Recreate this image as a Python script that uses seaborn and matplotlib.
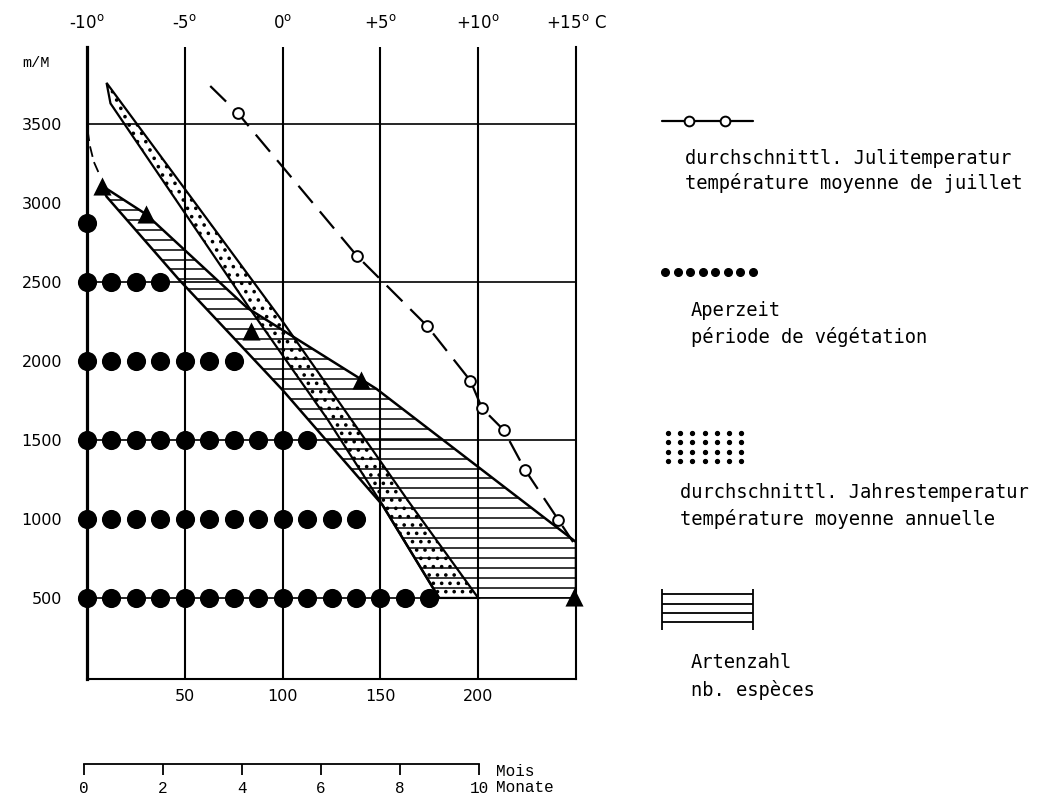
import numpy as np
import pandas as pd
import seaborn as sns
import matplotlib.pyplot as plt
from matplotlib.patches import Polygon

# Aperzeit: altitude rows (m) and number of dots in each row
aper_alt = [500, 1000, 1500, 2000, 2500, 2870]
aper_dots = [15, 12, 10, 7, 4, 1]
aper_step = 12.5  # distance between two dots, in units of the lower axis

# durchschnittl. Julitemperatur (deg C) against altitude (m)
juli_temp = [-2.3, 3.8, 7.4, 9.6, 10.2, 11.3, 12.4, 14.1]
juli_alt = [3570, 2665, 2220, 1875, 1700, 1563, 1310, 994]
juli_line_temp = [-3.7] + juli_temp + [14.85]
juli_line_alt = [3740] + juli_alt + [854]

# durchschnittl. Jahrestemperatur: warm and cold edge of the band
jahr_warm_temp = [-9.0, 0.0, 6.5, 10.0]
jahr_warm_alt = [3760, 2250, 1100, 500]
jahr_cold_temp = [-8.8, -1.7, 2.3, 5.1, 8.0]
jahr_cold_alt = [3630, 2335, 1630, 1090, 500]

# Artenzahl: edges of the band and the observed values (triangles)
arten_upper_n = [7.5, 30, 82, 148, 250, 250]
arten_upper_alt = [3110, 2930, 2335, 1823, 854, 500]
arten_lower_n = [7.5, 10, 47, 100, 151, 180]
arten_lower_alt = [3110, 3040, 2515, 1816, 1089, 500]
arten_top_n = [0.3, 1.5, 3.5, 6.0]
arten_top_alt = [3460, 3360, 3260, 3190]
arten_obs_n = [7.6, 30, 84, 140, 249]
arten_obs_alt = [3108, 2930, 2190, 1880, 505]

alt_ticks = [500, 1000, 1500, 2000, 2500, 3000, 3500]
n_ticks = [50, 100, 150, 200]
temp_ticks = [-10, -5, 0, 5, 10, 15]
temp_labels = ['-10$^{\\mathrm{o}}$', '-5$^{\\mathrm{o}}$', '0$^{\\mathrm{o}}$',
               '+5$^{\\mathrm{o}}$', '+10$^{\\mathrm{o}}$', '+15$^{\\mathrm{o}}$ C']
month_ticks = [0, 2, 4, 6, 8, 10]


def t2n(t):
    # top scale: -10 deg sits on 0, 5 deg per 50 units
    return (np.asarray(t, dtype=float) + 10) * 10


sns.set_style("white")
plt.rcParams['font.family'] = ['DejaVu Sans']
plt.rcParams['text.color'] = 'black'
plt.rcParams['xtick.color'] = 'black'
plt.rcParams['ytick.color'] = 'black'
plt.rcParams['axes.labelcolor'] = 'black'
plt.rcParams['hatch.linewidth'] = 1.4
plt.rcParams['hatch.color'] = 'black'

W, H = 1047, 802
fig = plt.figure(figsize=(W / 100, H / 100), dpi=100)
ax = fig.add_axes([87 / W, 1 - 679 / H, (576 - 87) / W, (679 - 47) / H])
ax.set_xlim(0, 250)
ax.set_ylim(-13, 3987)

# frame and grid
ax.spines['top'].set_visible(False)
ax.spines['left'].set_linewidth(2.3)
ax.spines['right'].set_linewidth(1.5)
ax.spines['bottom'].set_linewidth(1.5)
for s in ['left', 'right', 'bottom']:
    ax.spines[s].set_color('black')
for x in n_ticks:
    ax.axvline(x, color='black', lw=1.5, zorder=1)
for y in [500, 1500, 2500, 3500]:
    ax.axhline(y, color='black', lw=1.2, zorder=1)

# Artenzahl band, horizontal hatching
band = list(zip(arten_upper_n, arten_upper_alt)) + list(zip(arten_lower_n, arten_lower_alt))[::-1]
poly = Polygon(band, closed=True, facecolor='none', edgecolor='none')
ax.add_patch(poly)
hl = ax.hlines(np.arange(500, 3200, 63), 0, 250, color='black', lw=1.1, zorder=2)
hl.set_clip_path(poly)
ax.plot(arten_upper_n, arten_upper_alt, color='black', lw=1.8, zorder=3)
ax.plot(arten_lower_n, arten_lower_alt, color='black', lw=1.8, zorder=3)
ax.plot(arten_top_n, arten_top_alt, color='black', lw=1.3, dashes=(6, 3), zorder=3)

# Jahrestemperatur band, dotted
jband = list(zip(t2n(jahr_warm_temp), jahr_warm_alt)) + list(zip(t2n(jahr_cold_temp), jahr_cold_alt))[::-1]
ax.add_patch(Polygon(jband, closed=True, facecolor='none', edgecolor='black',
                     lw=1.6, hatch='..', zorder=3))

# Julitemperatur
ax.plot(t2n(juli_line_temp), juli_line_alt, color='black', lw=1.6, dashes=(10, 5), zorder=4)
sns.scatterplot(x=t2n(juli_temp), y=juli_alt, ax=ax, marker='o', s=60, color='white',
                edgecolor='black', linewidth=1.4, zorder=5)

# Aperzeit dots
rows = []
for a, k in zip(aper_alt, aper_dots):
    for i in range(k):
        rows.append((i * aper_step, a))
aper = pd.DataFrame(rows, columns=['n', 'alt'])
sns.scatterplot(data=aper, x='n', y='alt', ax=ax, s=190, color='black', linewidth=0,
                zorder=5, clip_on=False)

# observed species numbers
sns.scatterplot(x=arten_obs_n, y=arten_obs_alt, ax=ax, marker='^', s=170, color='black',
                linewidth=0, zorder=6, clip_on=False)

# ticks
ax.set_xticks(n_ticks)
ax.set_yticks(alt_ticks)
ax.tick_params(axis='x', length=0, pad=7, labelsize=11.5)
ax.tick_params(axis='y', length=0, pad=18, labelsize=11.5)
ax.set_xlabel('')
ax.set_ylabel('')

top = ax.secondary_xaxis('top', functions=(lambda n: n / 10 - 10, lambda t: (t + 10) * 10))
top.set_xticks(temp_ticks)
top.set_xticklabels(temp_labels)
top.tick_params(length=0, pad=11, labelsize=12)
top.spines['top'].set_visible(False)

fig.text(22 / W, 1 - 63 / H, 'm/M', family='Liberation Mono', fontsize=11, va='center')

# months scale below
axm = fig.add_axes([84 / W, 1 - 764 / H, 494 / W, 0.0001])
axm.set_xlim(0, 12.5)
axm.set_yticks([])
for s in ['top', 'left', 'right']:
    axm.spines[s].set_visible(False)
axm.spines['bottom'].set_bounds(0, 10)
axm.spines['bottom'].set_linewidth(1.3)
axm.spines['bottom'].set_color('black')
axm.set_xticks(month_ticks)
axm.tick_params(axis='x', bottom=True, direction='out', length=8, width=1.3, pad=4,
                labelsize=11.5, color='black')
for lab in axm.get_xticklabels():
    lab.set_family('Liberation Mono')
axm.patch.set_alpha(0)
fig.text(496 / W, 1 - 771 / H, 'Mois', family='Liberation Mono', fontsize=11.5, va='center')
fig.text(496 / W, 1 - 788 / H, 'Monate', family='Liberation Mono', fontsize=11.5, va='center')

# legend on the right
lax = fig.add_axes([0, 0, 1, 1])
lax.set_xlim(0, W)
lax.set_ylim(H, 0)
lax.axis('off')
lax.patch.set_alpha(0)
mono = dict(family='DejaVu Sans Mono', fontsize=13.5, va='center', ha='left')

lax.plot([662, 753], [121, 121], color='black', lw=1.6)
lax.plot([689, 725], [121, 121], 'o', ms=7, mfc='white', mec='black', mew=1.4)
lax.text(685, 158, 'durchschnittl. Julitemperatur', **mono)
lax.text(685, 183, 'température moyenne de juillet', **mono)

lax.plot(np.linspace(665, 753, 8), [272] * 8, 'o', ms=5.5, color='black')
lax.text(691, 310, 'Aperzeit', **mono)
lax.text(691, 337, 'période de végétation', **mono)

gx, gy = np.meshgrid(np.linspace(668, 741, 7), np.linspace(433, 461, 4))
lax.plot(gx.ravel(), gy.ravel(), 'o', ms=2.8, color='black')
lax.text(680, 492, 'durchschnittl. Jahrestemperatur', **mono)
lax.text(680, 519, 'température moyenne annuelle', **mono)

lax.vlines([662, 753], 589, 630, color='black', lw=1.3)
lax.hlines([594, 604, 613, 622], 662, 753, color='black', lw=1.3)
lax.text(691, 663, 'Artenzahl', **mono)
lax.text(691, 690, 'nb. espèces', **mono)

fig.savefig('out.png', dpi=100)
